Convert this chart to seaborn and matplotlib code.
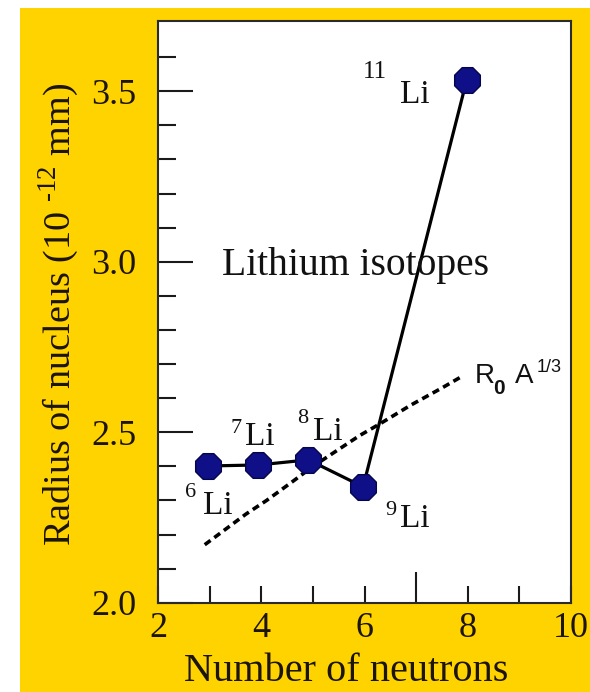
import matplotlib
matplotlib.use("Agg")
import matplotlib.pyplot as plt
from matplotlib.patches import Rectangle
import seaborn as sns
import pandas as pd

# Measured radii of the lithium isotopes (neutron number, radius in 10^-12 mm)
isotopes = ["6", "7", "8", "9", "11"]
neutrons = [2.97, 3.94, 4.91, 5.97, 7.98]
radius = [2.401, 2.404, 2.419, 2.340, 3.534]

# Simple R0 A^(1/3) scaling curve
curve_n = [2.9, 3.3, 3.7, 4.1, 4.6, 5.0, 5.5, 5.9, 6.3, 6.9, 7.5, 7.9]
curve_r = [2.17, 2.215, 2.26, 2.30, 2.355, 2.40, 2.45, 2.49, 2.525, 2.58, 2.63, 2.665]

x_ticks = [2, 4, 6, 8, 10]
y_ticks = [2.0, 2.5, 3.0, 3.5]

sns.set_theme(style="white")
plt.rcParams["font.family"] = ["Liberation Serif", "DejaVu Serif"]
plt.rcParams["mathtext.fontset"] = "custom"
plt.rcParams["mathtext.rm"] = "Liberation Serif"

W, H = 590, 692
fig = plt.figure(figsize=(W / 100, H / 100), dpi=100)
fig.patch.set_facecolor("white")
fig.patches.append(Rectangle((20 / W, 0), 1 - 20 / W, (H - 8) / H,
                             transform=fig.transFigure, facecolor="#FFD300",
                             edgecolor="none", zorder=-10))

ax = fig.add_axes([158.3 / W, (H - 602.7) / H, 412.7 / W, 582.0 / H])
ax.set_facecolor("white")

df = pd.DataFrame({"neutrons": neutrons, "radius": radius, "isotope": isotopes})
curve = pd.DataFrame({"neutrons": curve_n, "radius": curve_r})

sns.lineplot(data=curve, x="neutrons", y="radius", ax=ax, color="black",
             linewidth=2.6, linestyle=(0, (2.0, 1.3)), zorder=2)
sns.lineplot(data=df, x="neutrons", y="radius", ax=ax, color="black",
             linewidth=2.3, zorder=3)
sns.scatterplot(data=df, x="neutrons", y="radius", ax=ax, marker="8", s=400,
                color="#0f0f88", edgecolor="#05054a", linewidth=1.0, zorder=4)

ax.set_xlim(2, 10)
ax.set_ylim(2.0, 3.707)
ax.set_xlabel("")
ax.set_ylabel("")

ax.set_xticks(x_ticks)
ax.set_xticks([3, 5, 7, 9], minor=True)
ax.set_yticks(y_ticks)
ax.set_yticks([2.1, 2.2, 2.3, 2.4, 2.6, 2.7, 2.8, 2.9, 3.1, 3.2, 3.3, 3.4, 3.6],
              minor=True)
ax.set_xticklabels([str(v) for v in x_ticks])
ax.set_yticklabels([f"{v:.1f}" for v in y_ticks])

tick_color = "#1a1a1a"
ax.tick_params(axis="both", which="both", direction="in", color=tick_color,
               width=1.5, left=True, bottom=True, top=False, right=False,
               labelcolor="#1c1405", labelsize=26)
ax.tick_params(axis="y", which="major", length=25, pad=16)
ax.tick_params(axis="y", which="minor", length=13)
ax.tick_params(axis="x", which="both", length=12.5, pad=7)
# the tick at seven neutrons is drawn longer
for t, loc in zip(ax.xaxis.get_minor_ticks(), [3, 5, 7, 9]):
    if loc == 7:
        t.tick1line.set_markersize(22.5)

for s in ax.spines.values():
    s.set_color("#2a2a2a")
    s.set_linewidth(1.5)
    s.set_visible(True)

# isotope labels
label_kw = dict(fontsize=24, color="#111111", ha="left", va="baseline")
sup_kw = dict(fontsize=16, color="#111111", ha="left", va="baseline")
ax.text(5.968, 3.539, "11", fontsize=18, color="#111111", ha="left", va="baseline")
ax.text(6.685, 3.466, "Li", **label_kw)
ax.text(3.390, 2.498, "7", **sup_kw)
ax.text(3.681, 2.463, "Li", **label_kw)
ax.text(4.683, 2.527, "8", **sup_kw)
ax.text(4.993, 2.478, "Li", **label_kw)
ax.text(2.518, 2.311, "6", **sup_kw)
ax.text(2.866, 2.260, "Li", **label_kw)
ax.text(6.394, 2.257, "9", **sup_kw)
ax.text(6.685, 2.223, "Li", **label_kw)

ax.text(3.229, 2.962, "Lithium isotopes", fontsize=28.5, color="#111111",
        ha="left", va="baseline")

sans = ["Liberation Sans", "DejaVu Sans"]
ax.text(8.139, 2.645, "R", family=sans, fontsize=20, color="#111111",
        ha="left", va="baseline")
ax.text(8.50, 2.612, "0", family=sans, fontsize=15, color="#111111",
        ha="left", va="baseline", weight="bold")
ax.text(8.91, 2.645, "A", family=sans, fontsize=20, color="#111111",
        ha="left", va="baseline")
ax.text(9.33, 2.676, "1/3", family=sans, fontsize=13, color="#111111",
        ha="left", va="baseline")

fig.text(346.5 / W, (H - 681) / H, "Number of neutrons", fontsize=29,
         color="#1c1405", ha="center", va="baseline")
fig.text(59 / W, (H - 314) / H, "Radius of nucleus (10 $^{\\mathrm{\u2010}12}$ mm)",
         fontsize=27.5, color="#1c1405", rotation=90, ha="center", va="center")

fig.savefig("out.png", dpi=100, facecolor=fig.get_facecolor())
